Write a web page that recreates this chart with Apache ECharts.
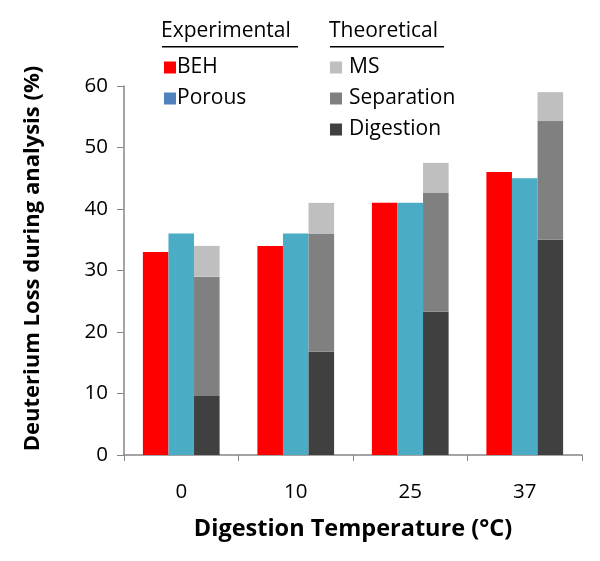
<!DOCTYPE html>
<html>
<head>
<meta charset="utf-8">
<script src="https://cdn.jsdelivr.net/npm/echarts@6/dist/echarts.min.js"></script>
<style>
  html, body { margin: 0; padding: 0; background: #fff; }
  #chart { width: 600px; height: 561px; }
</style>
</head>
<body>
<div id="chart"></div>
<script>
// data
var temps = ['0', '10', '25', '37'];
var beh = [33, 34, 41, 46];
var porous = [36, 36, 41, 45];
var digestion = [9.6, 16.8, 23.3, 35.0];
var separation = [19.4, 19.2, 19.3, 19.3];
var ms = [5.0, 5.0, 4.9, 4.7];

var font = '"Open Sans", "Noto Sans", sans-serif';
var chart = echarts.init(document.getElementById('chart'));

var option = {
  animation: false,
  grid: { left: 124, right: 18, top: 86, bottom: 106 },
  legend: [
    {
      left: 159, top: 52, orient: 'vertical', itemGap: 10,
      itemWidth: 12, itemHeight: 12, icon: 'rect',
      textStyle: { fontFamily: font, fontSize: 21, color: '#000', padding: [0, 0, 0, -4] },
      data: [
        { name: 'BEH', itemStyle: { color: '#ff0000' } },
        { name: 'Porous', itemStyle: { color: '#4f81bd' } }
      ]
    },
    {
      left: 325, top: 52, orient: 'vertical', itemGap: 10,
      itemWidth: 12, itemHeight: 12, icon: 'rect',
      textStyle: { fontFamily: font, fontSize: 21, color: '#000', padding: [0, 0, 0, 2] },
      data: ['MS', 'Separation', 'Digestion']
    }
  ],
  graphic: [
    { type: 'text', left: 161, top: 21, style: { text: 'Experimental', font: '21px ' + font, fill: '#000' } },
    { type: 'rect', left: 162, top: 46, shape: { width: 136, height: 1.5 }, style: { fill: '#000' } },
    { type: 'text', left: 329, top: 21, style: { text: 'Theoretical', font: '21px ' + font, fill: '#000' } },
    { type: 'rect', left: 330, top: 46, shape: { width: 114, height: 1.5 }, style: { fill: '#000' } }
  ],
  xAxis: {
    type: 'category',
    data: temps,
    name: 'Digestion Temperature (°C)',
    nameLocation: 'middle',
    nameGap: 62,
    nameTextStyle: { fontFamily: font, fontSize: 23.5, fontWeight: 'bold', color: '#000' },
    axisLine: { lineStyle: { color: '#868686', width: 1.5 } },
    axisTick: { show: true, length: 6, lineStyle: { color: '#868686' } },
    axisLabel: { fontFamily: font, fontSize: 20.5, color: '#000', margin: 27 }
  },
  yAxis: {
    type: 'value',
    min: 0, max: 60, interval: 10,
    name: 'Deuterium Loss during analysis (%)',
    nameLocation: 'middle',
    nameGap: 80,
    nameTextStyle: { fontFamily: font, fontSize: 22, fontWeight: 'bold', color: '#000', padding: [0, 0, 0, 24] },
    axisLine: { show: true, lineStyle: { color: '#868686', width: 1.5 } },
    axisTick: { show: true, length: 7, lineStyle: { color: '#868686' } },
    axisLabel: { fontFamily: font, fontSize: 20.5, color: '#000', margin: 16 },
    splitLine: { show: false }
  },
  series: [
    { name: 'BEH', type: 'bar', data: beh, barGap: '0%', barCategoryGap: '33%', itemStyle: { color: '#ff0000' } },
    { name: 'Porous', type: 'bar', data: porous, itemStyle: { color: '#4bacc6' } },
    { name: 'Digestion', type: 'bar', stack: 'theo', data: digestion, itemStyle: { color: '#404040' } },
    { name: 'Separation', type: 'bar', stack: 'theo', data: separation, itemStyle: { color: '#808080' } },
    { name: 'MS', type: 'bar', stack: 'theo', data: ms, itemStyle: { color: '#bfbfbf' } }
  ]
};

chart.setOption(option);
</script>
</body>
</html>
